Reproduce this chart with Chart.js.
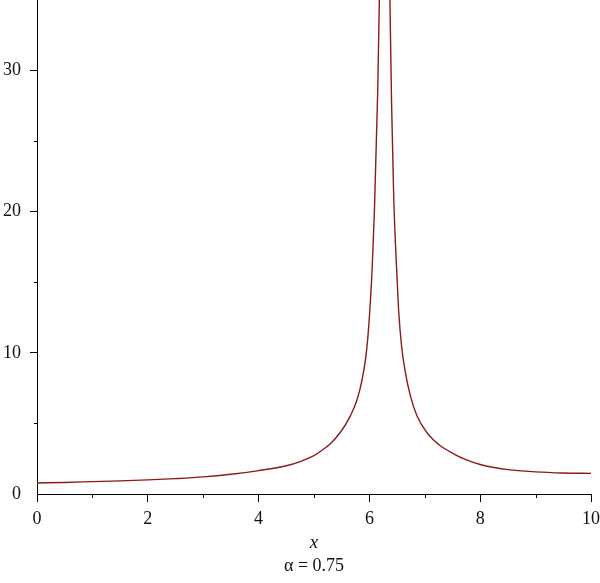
<!DOCTYPE html>
<html>
<head>
<meta charset="utf-8">
<script src="https://cdn.jsdelivr.net/npm/chart.js@4/dist/chart.umd.min.js"></script>
<style>
html,body{margin:0;padding:0;background:#fff;}
#wrap{width:600px;height:583px;position:relative;}
</style>
</head>
<body>
<div id="wrap"><canvas id="c" width="600" height="583"></canvas></div>
<script>
// Data
const xValues = [0, 0.5, 1.0, 1.5, 2.0, 2.5, 3.0, 3.5, 4.0, 4.5, 4.75, 5.0, 5.12, 5.29, 5.47, 5.655, 5.78, 5.87, 5.93, 5.97, 6.02, 6.05, 6.09, 6.15, 6.18, 6.2,
                 6.28,
                 6.35, 6.37, 6.40, 6.44, 6.50, 6.53, 6.58, 6.65, 6.74, 6.86, 7.04, 7.16, 7.28, 7.52, 7.73, 8.0, 8.5, 9.0, 9.5, 10.0];
const yValues = [0.78, 0.82, 0.875, 0.93, 1.0, 1.09, 1.21, 1.4, 1.66, 2.0, 2.3, 2.72, 3.03, 3.55, 4.34, 5.52, 6.71, 8.14, 9.56, 11.0, 13.8, 16.0, 20.0, 28.5, 35.2, 40,
                 null,
                 40, 35.2, 27.7, 20.9, 15.25, 12.88, 10.5, 8.6, 6.95, 5.52, 4.34, 3.82, 3.42, 2.85, 2.45, 2.09, 1.73, 1.57, 1.49, 1.46];
const xTickLabels = [0, 2, 4, 6, 8, 10];
const yTickLabels = [0, 10, 20, 30];
const xMinor = [1, 3, 5, 7, 9];
const yMinor = [5, 15, 25];
const xTitle = 'x';
const subTitle = 'α = 0.75';

const points = xValues.map((x, i) => ({x: x, y: yValues[i]}));
const FONT = '"Liberation Serif", "DejaVu Serif", serif';

const extras = {
  id: 'extras',
  afterDraw(chart) {
    const ctx = chart.ctx;
    const xs = chart.scales.x, ys = chart.scales.y;
    ctx.save();
    ctx.strokeStyle = '#000';
    ctx.lineWidth = 1;
    ctx.beginPath();
    xMinor.forEach(v => {
      const p = Math.round(xs.getPixelForValue(v)) + 0.5;
      ctx.moveTo(p, ys.bottom);
      ctx.lineTo(p, ys.bottom + 4);
    });
    yMinor.forEach(v => {
      const p = Math.round(ys.getPixelForValue(v)) + 0.5;
      ctx.moveTo(xs.left - 3, p);
      ctx.lineTo(xs.left, p);
    });
    ctx.stroke();
    const cx = (xs.left + xs.right) / 2;
    ctx.fillStyle = '#111';
    ctx.textAlign = 'center';
    ctx.textBaseline = 'middle';
    ctx.font = 'italic 19px ' + FONT;
    ctx.fillText(xTitle, cx, 543);
    ctx.font = '18px ' + FONT;
    ctx.fillText(subTitle, cx, 566);
    ctx.restore();
  }
};

new Chart(document.getElementById('c'), {
  type: 'line',
  data: {
    datasets: [{
      data: points,
      borderColor: '#8c1a1a',
      borderWidth: 1.4,
      pointRadius: 0,
      fill: false,
      spanGaps: false,
      cubicInterpolationMode: 'monotone'
    }]
  },
  options: {
    responsive: false,
    animation: false,
    layout: {padding: {left: 0, right: 0, top: 0, bottom: 0}},
    plugins: {legend: {display: false}, tooltip: {enabled: false}},
    scales: {
      x: {
        type: 'linear',
        min: 0, max: 10,
        afterFit: s => { s.height = 89; s.paddingRight = 9; s.paddingLeft = 0; },
        afterBuildTicks: s => { s.ticks = xTickLabels.map(v => ({value: v})); },
        border: {display: true, color: '#000', width: 1},
        grid: {display: true, drawOnChartArea: false, drawTicks: true, tickLength: 8, tickColor: '#000', tickWidth: 1},
        ticks: {autoSkip: false, maxRotation: 0, padding: 6, color: '#111', font: {family: FONT, size: 18}}
      },
      y: {
        type: 'linear',
        min: 0, max: 35,
        afterFit: s => { s.width = 37; s.paddingTop = 0; s.paddingBottom = 0; },
        afterBuildTicks: s => { s.ticks = yTickLabels.map(v => ({value: v})); },
        border: {display: true, color: '#000', width: 1},
        grid: {display: true, drawOnChartArea: false, drawTicks: true, tickLength: 7,
               tickColor: c => (c.tick && c.tick.value === 0) ? 'rgba(0,0,0,0)' : '#000', tickWidth: 1},
        ticks: {autoSkip: false, padding: 9, color: '#111', font: {family: FONT, size: 18}}
      }
    }
  },
  plugins: [extras]
});
</script>
</body>
</html>
